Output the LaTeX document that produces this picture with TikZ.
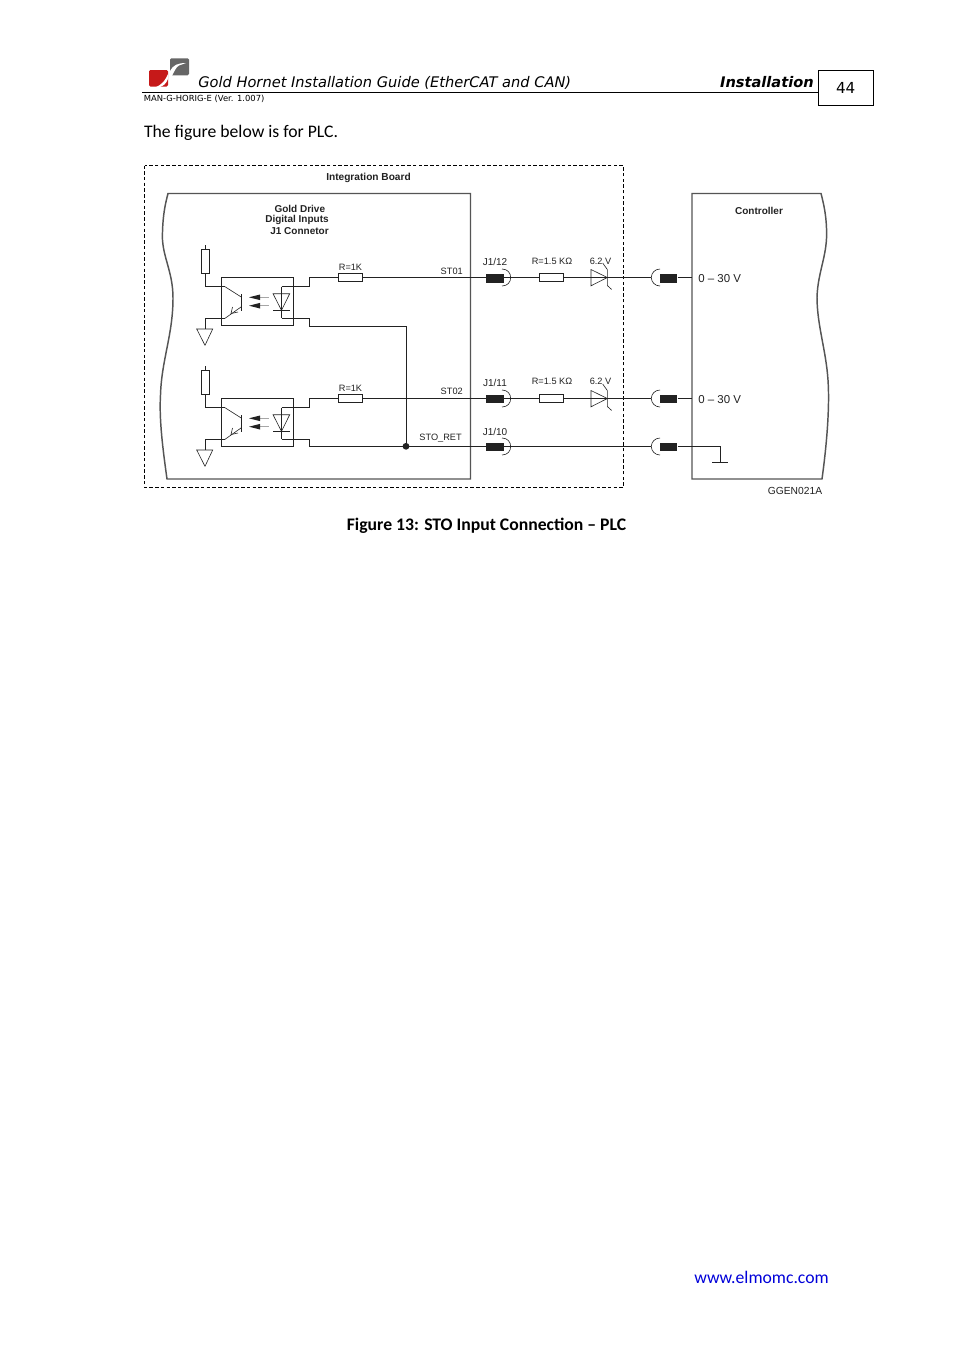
\documentclass[tikz,border=0pt]{standalone}
\usepackage{fontspec}
\setmainfont{Carlito}
\newfontfamily\vfont{DejaVu Sans}
\newfontfamily\afont{Liberation Sans}
\usetikzlibrary{calc}
\definecolor{edge}{HTML}{555555}
\definecolor{ink}{HTML}{222222}
\tikzset{
 wire/.style={draw=ink,line width=0.75pt},
 thin wire/.style={draw=ink,line width=0.45pt},
 frame/.style={draw=edge,line width=1.1pt},
 resbox/.style={draw=ink,line width=0.7pt,fill=white,inner sep=0pt,minimum width=18pt,minimum height=5.5pt},
 vresbox/.style={draw=ink,line width=0.7pt,fill=white,inner sep=0pt,minimum width=6pt,minimum height=18pt},
 plug/.style={fill=ink,inner sep=0pt,minimum width=13.2pt,minimum height=6.4pt},
 lab/.style={inner sep=0pt,font=\afont\fontsize{6.9}{8.6}\selectfont,text=ink},
 blab/.style={inner sep=0pt,align=center,font=\afont\bfseries\fontsize{7.5}{8.6}\selectfont,text=ink},
 vlab/.style={inner sep=0pt,anchor=base west,font=\afont\fontsize{8.6}{10}\selectfont,text=ink},
}
% opto-coupler with its pull-up resistor and ground; #1 prefix, #2 vertical offset
\newcommand\optoblock[2]{%
 \begin{scope}[shift={(0,#2)}]
  \node[draw=ink,line width=0.8pt,minimum width=54pt,minimum height=36.2pt,inner sep=0pt] (#1box) at (257.3,301.7) {};
  \node[vresbox] (#1pull) at (205.3,261.3) {};
  \coordinate (#1vcc) at (205.3,245);
  \coordinate (#1cin) at (225,286.7);
  \coordinate (#1cout) at (225,318.3);
  \coordinate (#1gnd) at (205,329);
  \coordinate (#1base) at (241.7,297.3);
  \coordinate (#1emit) at (241.7,306.5);
  \coordinate (#1da) at (281.7,286.5);
  \coordinate (#1dc) at (281.7,318.3);
  \draw[thin wire] (#1vcc) -- (#1pull.north);
  \draw[wire] (#1pull.south) |- (#1cin);
  \draw[thin wire] (#1cin) -- (#1base);
  \draw[thin wire] (#1emit) -- (#1cout);
  \draw[wire] (#1cout) -- (205,318.3) -- (#1gnd);
  \draw[wire] (241.7,294) -- (241.7,310.7);
  \draw[thin wire] (196.7,329) -- (212.7,329) -- (205,345.3) -- cycle;
  \draw[thin wire] (232.5,307) -- (231,313.5) -- (238,312);
  % light arrows
  \draw[draw=gray!70,line width=0.8pt] (259,297.3) -- (269,297.3);
  \draw[draw=gray!70,line width=0.8pt] (259,305.7) -- (269,305.7);
  \fill[ink] (249,297.3) -- (260,294.5) -- (260,300.1) -- cycle;
  \fill[ink] (249,305.7) -- (260,302.9) -- (260,308.5) -- cycle;
  % diode
  \draw[thin wire] (273,293.7) -- (289.7,293.7) -- (281.5,310.3) -- cycle;
  \draw[wire] (273,310.3) -- (290,310.3);
  \draw[wire] (#1da) -- (#1dc);
 \end{scope}}
% mating connector cups; #1 vertical position
\newcommand\cupright[1]{\begin{scope}[shift={(0,#1)}]
  \draw[thin wire] (502,-8.5) .. controls (507.5,-8.5) and (510.7,-4.5) .. (510.7,0) .. controls (510.7,4.5) and (507.5,8.5) .. (502,8.5);
 \end{scope}}
\newcommand\cupleft[1]{\begin{scope}[shift={(0,#1)}]
  \draw[thin wire] (660,-8.5) .. controls (655,-8.5) and (651.3,-4.5) .. (651.3,0) .. controls (651.3,4.5) and (655,8.5) .. (660,8.5);
 \end{scope}}
% zener; #1 vertical position
\newcommand\zener[1]{\begin{scope}[shift={(0,#1)}]
  \draw[thin wire] (591,-8) -- (591,8.3) -- (607.3,0) -- cycle;
  \draw[thin wire] (602.7,-14.5) -- (607.3,-8) -- (607.3,8) -- (611.7,12);
 \end{scope}}
\begin{document}
\begin{tikzpicture}[x=0.75pt,y=-0.75pt]
\useasboundingbox (0,0) rectangle (954,1350);
\fill[white] (0,0) rectangle (954,1350);
% header
\fill[red!75!black!90,rounded corners=1pt] (149,70) rectangle (168,86.5);
\fill[white] (156,87) .. controls (163,84) and (166,79) .. (168,74) -- (168,79) .. controls (166,84) and (163,86) .. (160,87) -- cycle;
\fill[gray!80!black,rounded corners=1pt] (170,58.3) rectangle (189,75.3);
\fill[white] (170,71) .. controls (173,65) and (178,63) .. (186,63) -- (179,65.5) .. controls (176,67) and (174,72) .. (172,76) -- (170,76) -- cycle;
\node[inner sep=0pt,anchor=base west,font=\vfont\itshape\fontsize{10.97}{12}\selectfont] (title) at (198,87) {Gold Hornet Installation Guide (EtherCAT and CAN)};
\node[inner sep=0pt,anchor=base east,font=\vfont\itshape\bfseries\fontsize{10.95}{12}\selectfont] (sect) at (814,87) {Installation};
\node[draw=black,line width=0.75pt,minimum width=41.25pt,minimum height=26.25pt,inner sep=0pt,font=\vfont\fontsize{11.4}{12}\selectfont] (pg) at (845.7,87.8) {44};
\coordinate (hl) at (142,92.6);
\draw[black,line width=0.75pt] (hl) -- (pg.west |- hl);
\node[inner sep=0pt,anchor=base west,font=\vfont\fontsize{6.3}{7}\selectfont] (doc) at (143.5,101) {MAN-G-HORIG-E (Ver. 1.007)};
\node[inner sep=0pt,anchor=base west,font=\fontsize{13.25}{14}\selectfont] (intro) at (143.8,137) {The figure below is for PLC.};
% frames
\draw[draw=black,line width=0.6pt,dash pattern=on 2.6pt off 1.7pt] (144.5,165.5) rectangle (623.5,487.5);
\node[blab,font=\afont\bfseries\fontsize{7.6}{9}\selectfont] (ib) at (368.5,177.5) {Integration Board};
\draw[frame] (168,193.5) -- (470.5,193.5) -- (470.5,479) -- (167,479) .. controls (163,450) and (159,420) .. (160.5,395) .. controls (161.5,360) and (173,335) .. (173,298) .. controls (173,270) and (161,255) .. (162.5,232) .. controls (163,215) and (165,205) .. (168,193.5) -- cycle;
\draw[frame] (821,193.5) -- (692,193.5) -- (692,479) -- (822,479) .. controls (826,450) and (830,410) .. (828,380) .. controls (826,350) and (817,325) .. (817,297) .. controls (818,270) and (828,255) .. (826.5,228) .. controls (826,215) and (824,205) .. (821,193.5) -- cycle;
\node[blab] (gd) at (299.8,209) {Gold Drive};
\node[blab] (di) at (297,220) {Digital Inputs};
\node[blab] (jc) at (299.5,231) {J1 Connetor};
\node[blab] (ctl) at (759,210.5) {Controller};
% optos
\optoblock{a}{0}
\optoblock{b}{121}
% wires channel 1
\node[resbox] (ra) at (350,277.5) {};
\node[resbox] (rb) at (350,398.5) {};
\node[plug] (pa) at (495,278.3) {};
\node[plug] (pb) at (495,398.8) {};
\node[plug] (pc) at (495,447) {};
\node[plug] (qa) at (668.5,278.3) {};
\node[plug] (qb) at (668.5,398.8) {};
\node[plug] (qc) at (668.5,447) {};
\node[resbox] (sa) at (551.5,277.5) {};
\node[resbox] (sb) at (551.5,398.5) {};
\coordinate (ca) at (692,277.5);
\coordinate (cb) at (692,398.5);
\coordinate (kneeA) at (309.3,277.5);
\coordinate (kneeB) at (309.3,398.5);
\coordinate (ret) at (406,446.3);
\coordinate (retT) at (406,326);
\coordinate (gnd) at (720,462.3);
\draw[wire] (ada) -- (309.3,286.5) -- (kneeA) -- (ra.west);
\draw[wire] (bda) -- (309.3,407.5) -- (kneeB) -- (rb.west);
\draw[wire] (adc) -- (309.3,318.3) -- (309.3,326) -- (retT) -- (ret);
\draw[wire] (bdc) -- (309.3,439.3) -- (309.3,446.3) -- (ret);
\draw[wire] (ra.east) -- (pa.west |- ra.east);
\draw[wire] (rb.east) -- (pb.west |- rb.east);
\draw[wire] (ret) -- (pc.west |- ret);
\draw[wire] (pa.east |- sa.west) -- (sa.west);
\draw[wire] (pb.east |- sb.west) -- (sb.west);
\draw[wire] (sa.east) -- (651.3,277.5);
\draw[wire] (sb.east) -- (651.3,398.5);
\draw[wire] (pc.east |- ret) -- (651.3,446.3);
\draw[wire] (qa.east |- ca) -- (ca);
\draw[wire] (qb.east |- cb) -- (cb);
\draw[wire] (qc.east |- ret) -- (720,446.3) -- (gnd);
\draw[wire] (712,462.3) -- (728,462.3);
\fill[ink] (ret) circle (3.4);
\cupright{277.5}\cupright{398.5}\cupright{446.5}
\cupleft{277.5}\cupleft{398.5}\cupleft{446.5}
\zener{277.5}\zener{398.5}
% labels
\node[lab] (l1) at (350.5,267) {R=1K};
\node[lab] (l2) at (350.5,388) {R=1K};
\node[lab,anchor=east] (l3) at (463,271) {ST01};
\node[lab,anchor=east] (l4) at (463,391.5) {ST02};
\node[lab,anchor=east] (l5) at (462,438.5) {STO\_RET};
\node[lab,font=\afont\fontsize{7.5}{9}\selectfont] (l6) at (495,262) {J1/12};
\node[lab,font=\afont\fontsize{7.5}{9}\selectfont] (l7) at (495,382.5) {J1/11};
\node[lab,font=\afont\fontsize{7.5}{9}\selectfont] (l8) at (495,431.5) {J1/10};
\node[lab] (l9) at (552,261) {R=1.5 KΩ};
\node[lab] (l10) at (552,381.5) {R=1.5 KΩ};
\node[lab] (l11) at (600.5,261) {6.2 V};
\node[lab] (l12) at (600.5,381.5) {6.2 V};
\node[vlab] (v1) at (698,282) {0 – 30 V};
\node[vlab] (v2) at (698,403) {0 – 30 V};
\node[lab,font=\afont\fontsize{7.7}{9}\selectfont] (g) at (795,491) {GGEN021A};
\node[inner sep=0pt,font=\bfseries\fontsize{13.25}{14}\selectfont] (cap) at (486.5,525.7) {Figure 13: STO Input Connection – PLC};
\node[inner sep=0pt,anchor=base east,text=blue!85!black,font=\fontsize{13.25}{14}\selectfont] (www) at (829,1283) {www.elmomc.com};
\end{tikzpicture}
\end{document}
